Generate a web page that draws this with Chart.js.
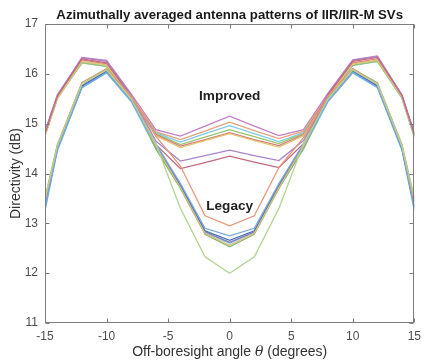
<!DOCTYPE html>
<html>
<head>
<meta charset="utf-8">
<script src="https://cdn.jsdelivr.net/npm/chart.js@4/dist/chart.umd.min.js"></script>
<style>
  html, body { margin: 0; padding: 0; background: #ffffff; }
  #wrap { width: 427px; height: 360px; position: relative; }
</style>
</head>
<body>
<div id="wrap"><canvas id="c" width="427" height="360"></canvas></div>
<script>
// Off-boresight angles (degrees)
const angles = [-15, -14, -12, -10, -8, -6, -4, -2, 0, 2, 4, 6, 8, 10, 12, 14, 15];

// "Improved" antenna panel SVs (dB)
const improved1 = [14.80, 15.55, 16.33, 16.27, 15.60, 14.88, 14.75, 14.95, 15.15, 14.95, 14.76, 14.88, 15.62, 16.28, 16.36, 15.56, 14.78];
const improved2 = [14.78, 15.50, 16.25, 16.18, 15.55, 14.84, 14.68, 14.85, 15.03, 14.86, 14.70, 14.85, 15.57, 16.20, 16.28, 15.52, 14.75];
const improved3 = [14.75, 15.50, 16.22, 16.15, 15.50, 14.82, 14.63, 14.80, 14.96, 14.80, 14.64, 14.82, 15.52, 16.17, 16.25, 15.50, 14.72];
const improved4 = [14.78, 15.52, 16.22, 16.15, 15.52, 14.80, 14.58, 14.73, 14.88, 14.74, 14.60, 14.80, 15.53, 16.17, 16.25, 15.52, 14.75];
const improved5 = [14.82, 15.55, 16.28, 16.20, 15.55, 14.78, 14.55, 14.68, 14.82, 14.68, 14.56, 14.78, 15.57, 16.22, 16.30, 15.55, 14.80];
const improved6 = [14.75, 15.50, 16.25, 16.18, 15.52, 14.76, 14.52, 14.66, 14.80, 14.66, 14.53, 14.76, 15.54, 16.20, 16.28, 15.52, 14.75];
const improved7 = [14.85, 15.58, 16.32, 16.25, 15.58, 14.65, 14.25, 14.36, 14.47, 14.36, 14.26, 14.66, 15.60, 16.27, 16.35, 15.58, 14.82];
const improved8 = [14.80, 15.55, 16.30, 16.22, 15.55, 14.58, 14.10, 14.22, 14.35, 14.23, 14.12, 14.60, 15.58, 16.25, 16.33, 15.56, 14.78];

// "Legacy" antenna panel SVs (dB)
const legacy1 = [13.45, 14.55, 15.82, 16.10, 15.55, 14.75, 14.15, 13.15, 12.95, 13.15, 14.12, 14.72, 15.55, 16.10, 15.80, 14.55, 13.42];
const legacy2 = [13.30, 14.48, 15.72, 16.03, 15.45, 14.60, 13.80, 12.90, 12.75, 12.90, 13.80, 14.60, 15.45, 16.03, 15.73, 14.50, 13.30];
const legacy3 = [13.35, 14.50, 15.75, 16.05, 15.50, 14.55, 13.75, 12.85, 12.66, 12.85, 13.75, 14.55, 15.50, 16.05, 15.75, 14.50, 13.33];
const legacy4 = [13.35, 14.50, 15.76, 16.06, 15.50, 14.58, 13.78, 12.83, 12.62, 12.83, 13.78, 14.58, 15.50, 16.06, 15.76, 14.50, 13.35];
const legacy5 = [13.25, 14.45, 15.72, 16.02, 15.45, 14.50, 13.72, 12.82, 12.60, 12.82, 13.72, 14.50, 15.45, 16.02, 15.72, 14.46, 13.25];
const legacy6 = [13.45, 14.55, 15.80, 16.08, 15.50, 14.55, 13.72, 12.80, 12.56, 12.80, 13.72, 14.55, 15.50, 16.08, 15.80, 14.55, 13.45];
const legacy7 = [13.50, 14.58, 15.82, 16.10, 15.55, 14.50, 13.70, 12.78, 12.53, 12.78, 13.70, 14.50, 15.55, 16.10, 15.82, 14.58, 13.50];
const legacy8 = [13.50, 14.55, 15.80, 16.08, 15.50, 14.60, 13.30, 12.33, 12.00, 12.33, 13.30, 14.60, 15.50, 16.08, 15.80, 14.55, 13.50];

const xTicks = [-15, -10, -5, 0, 5, 10, 15];
const yTicks = [11, 12, 13, 14, 15, 16, 17];

const titleText = 'Azimuthally averaged antenna patterns of IIR/IIR-M SVs';
const xTitleParts = ['Off-boresight angle ', '\u03B8', ' (degrees)'];
const yTitleText = 'Directivity (dB)';
const labelImproved = 'Improved';
const labelLegacy = 'Legacy';
const labelImprovedAt = [0, 15.55];
const labelLegacyAt = [0, 13.35];

const FONT = "'Liberation Sans', Arial, Helvetica, sans-serif";

const seriesList = [
  { data: legacy8, color: '#b2d492' },
  { data: legacy1, color: '#e8957a' },
  { data: legacy2, color: '#78a8e0' },
  { data: legacy6, color: '#dcbe7a' },
  { data: legacy3, color: '#4a70b8' },
  { data: legacy4, color: '#8a78b8' },
  { data: legacy7, color: '#86b46a' },
  { data: legacy5, color: '#6cc4ea' },
  { data: improved8, color: '#c46a7e' },
  { data: improved7, color: '#a884c8' },
  { data: improved6, color: '#e3c474' },
  { data: improved5, color: '#d77b7b' },
  { data: improved4, color: '#98c46c' },
  { data: improved3, color: '#7ccbe9' },
  { data: improved2, color: '#e6a07a' },
  { data: improved1, color: '#c47ec8' }
];

const datasets = seriesList.map(s => ({
  data: angles.map((a, i) => ({ x: a, y: s.data[i] })),
  borderColor: s.color,
  borderWidth: 1.3,
  pointRadius: 0,
  tension: 0,
  fill: false
}));

const decorPlugin = {
  id: 'decor',
  afterDatasetsDraw(chart) {
    const { ctx, scales: { x, y } } = chart;
    ctx.save();
    ctx.fillStyle = '#222222';
    ctx.font = "bold 13.6px " + FONT;
    ctx.textAlign = 'center';
    ctx.textBaseline = 'middle';
    ctx.fillText(labelImproved, x.getPixelForValue(labelImprovedAt[0]), y.getPixelForValue(labelImprovedAt[1]));
    ctx.fillText(labelLegacy, x.getPixelForValue(labelLegacyAt[0]), y.getPixelForValue(labelLegacyAt[1]));
    ctx.restore();
  },
  afterDraw(chart) {
    const { ctx, chartArea: a, scales: { x, y } } = chart;
    ctx.save();
    ctx.strokeStyle = '#7d7d7d';
    ctx.lineWidth = 1;
    const L = Math.round(a.left) + 0.5, R = Math.round(a.right) - 0.5;
    const T = Math.round(a.top) + 0.5, B = Math.round(a.bottom) - 0.5;
    ctx.strokeRect(L, T, R - L, B - T);
    ctx.beginPath();
    xTicks.forEach(v => {
      const px = Math.round(x.getPixelForValue(v)) + 0.5;
      ctx.moveTo(px, B); ctx.lineTo(px, B - 4);
      ctx.moveTo(px, T); ctx.lineTo(px, T + 4);
    });
    yTicks.forEach(v => {
      const py = Math.round(y.getPixelForValue(v)) + 0.5;
      ctx.moveTo(L, py); ctx.lineTo(L + 4, py);
      ctx.moveTo(R, py); ctx.lineTo(R - 4, py);
    });
    ctx.stroke();

    // main title
    ctx.fillStyle = '#1a1a1a';
    ctx.font = "bold 13.2px " + FONT;
    ctx.textAlign = 'center';
    ctx.textBaseline = 'middle';
    ctx.fillText(titleText, (a.left + a.right) / 2, 15);

    // x axis title with italic theta
    ctx.fillStyle = '#333333';
    const regular = "14px " + FONT;
    const italic = "italic 14px 'DejaVu Serif', 'Liberation Serif', serif";
    const fonts = [regular, italic, regular];
    let widths = xTitleParts.map((t, i) => { ctx.font = fonts[i]; return ctx.measureText(t).width; });
    const total = widths.reduce((p, c) => p + c, 0);
    let cx = (a.left + a.right) / 2 - total / 2;
    ctx.textAlign = 'left';
    xTitleParts.forEach((t, i) => {
      ctx.font = fonts[i];
      ctx.fillText(t, cx, 352);
      cx += widths[i];
    });
    ctx.restore();
  }
};

new Chart(document.getElementById('c'), {
  type: 'line',
  data: { datasets },
  plugins: [decorPlugin],
  options: {
    responsive: false,
    animation: false,
    devicePixelRatio: 1,
    layout: { padding: { top: 24, right: 7, bottom: 0, left: 0 } },
    plugins: { legend: { display: false }, tooltip: { enabled: false }, title: { display: false } },
    scales: {
      x: {
        type: 'linear',
        min: -15, max: 15,
        afterBuildTicks: s => { s.ticks = xTicks.map(v => ({ value: v })); },
        afterFit: s => { s.height = 37; },
        grid: { display: false, drawTicks: false },
        border: { display: false },
        ticks: { color: '#4d4d4d', font: { family: FONT, size: 12 }, padding: 6, maxRotation: 0, autoSkip: false }
      },
      y: {
        type: 'linear',
        min: 11, max: 17,
        afterBuildTicks: s => { s.ticks = yTicks.map(v => ({ value: v })); },
        afterFit: s => { s.width = 45; },
        grid: { display: false, drawTicks: false },
        border: { display: false },
        ticks: { color: '#4d4d4d', font: { family: FONT, size: 12 }, padding: 7, autoSkip: false },
        title: { display: true, text: yTitleText, color: '#333333', font: { family: FONT, size: 14 }, padding: { top: 8, bottom: 0 } }
      }
    }
  }
});
</script>
</body>
</html>
